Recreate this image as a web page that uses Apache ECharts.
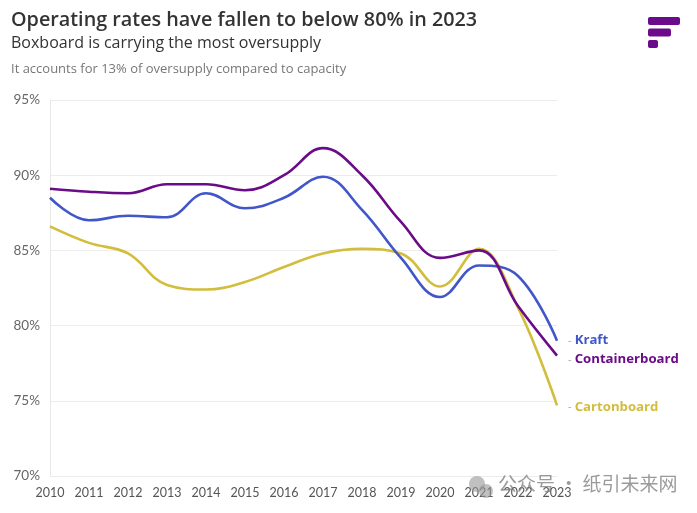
<!DOCTYPE html>
<html><head><meta charset="utf-8">
<script src="https://cdn.jsdelivr.net/npm/echarts@6/dist/echarts.min.js"></script>
<style>html,body{margin:0;padding:0;background:#fff}#c{width:697px;height:513px}</style>
</head><body><div id="c"></div>
<script>
const years = ['2010','2011','2012','2013','2014','2015','2016','2017','2018','2019','2020','2021','2022','2023'];
const containerboard = [89.1, 88.9, 88.8, 89.4, 89.4, 89.0, 90.0, 91.8, 90.0, 86.9, 84.5, 85.0, 81.3, 78.0];
const kraft = [88.5, 87.0, 87.3, 87.2, 88.8, 87.8, 88.5, 89.9, 87.7, 84.5, 81.9, 84.0, 83.3, 79.0];
const cartonboard = [86.6, 85.5, 84.8, 82.7, 82.4, 82.9, 83.9, 84.8, 85.1, 84.8, 82.6, 85.1, 81.2, 74.7];
const yTicks = [70, 75, 80, 85, 90, 95];

const chart = echarts.init(document.getElementById('c'));
const font = '"Open Sans", "Noto Sans", sans-serif';
const tickFont = 'Lato, "Noto Sans", sans-serif';
function mk(name, data, color, offY) {
  return {
    name, type: 'line', data, smooth: 0.4, symbol: 'none',
    lineStyle: { color, width: 2.6 }, itemStyle: { color },
    endLabel: {
      show: true, offset: [3, offY],
      formatter: '{d|-} {n|' + name + '}',
      rich: {
        d: { color: '#aaa', fontSize: 11, fontFamily: font },
        n: { color, fontSize: 13.2, fontWeight: 'bold', fontFamily: font }
      }
    },
    z: name === 'Containerboard' ? 3 : 2
  };
}
chart.setOption({
  animation: false,
  textStyle: { fontFamily: font },
  grid: { left: 50, right: 140, top: 100, bottom: 37 },
  graphic: [
    { type: 'text', left: 11, top: 10, style: { text: 'Operating rates have fallen to below 80% in 2023', font: '600 19.8px ' + font, fill: '#333' } },
    { type: 'text', left: 11, top: 35, style: { text: 'Boxboard is carrying the most oversupply', font: '16px ' + font, fill: '#333' } },
    { type: 'text', left: 11, top: 63, style: { text: 'It accounts for 13% of oversupply compared to capacity', font: '13px ' + font, fill: '#777' } },
    { type: 'rect', shape: { x: 648, y: 17, width: 32, height: 8, r: 2 }, style: { fill: '#6b0a8a' } },
    { type: 'rect', shape: { x: 648, y: 28.5, width: 23, height: 8, r: 2 }, style: { fill: '#6b0a8a' } },
    { type: 'rect', shape: { x: 648, y: 40, width: 10, height: 8, r: 2 }, style: { fill: '#6b0a8a' } },
    { type: 'text', left: 498, top: 474, z: 10, style: { text: '公众号 · 纸引未来网', font: '19px "Noto Sans CJK SC", sans-serif', fill: 'rgba(120,120,120,0.75)' } },
    { type: 'circle', shape: { cx: 477, cy: 484, r: 8 }, z: 10, style: { fill: 'rgba(150,150,150,0.6)' } },
    { type: 'circle', shape: { cx: 486, cy: 491, r: 7 }, z: 10, style: { fill: 'rgba(150,150,150,0.6)' } }
  ],
  xAxis: {
    type: 'category', data: years, boundaryGap: false,
    axisLine: { show: false }, axisTick: { show: false },
    axisLabel: { color: '#555', fontSize: 12.5, margin: 10, fontFamily: tickFont }
  },
  yAxis: {
    type: 'value', min: 70, max: 95, interval: 5,
    axisLine: { show: true, lineStyle: { color: '#e8e8e8' } }, axisTick: { show: false },
    splitLine: { lineStyle: { color: '#ececec' } },
    axisLabel: { color: '#666', fontSize: 13.5, margin: 10, fontFamily: tickFont,
      formatter: v => yTicks.includes(v) ? v + '%' : '' }
  },
  series: [
    mk('Cartonboard', cartonboard, '#d3bd3c', 2),
    mk('Kraft', kraft, '#4157c9', 0),
    mk('Containerboard', containerboard, '#6a0c88', 4)
  ]
});
</script></body></html>
